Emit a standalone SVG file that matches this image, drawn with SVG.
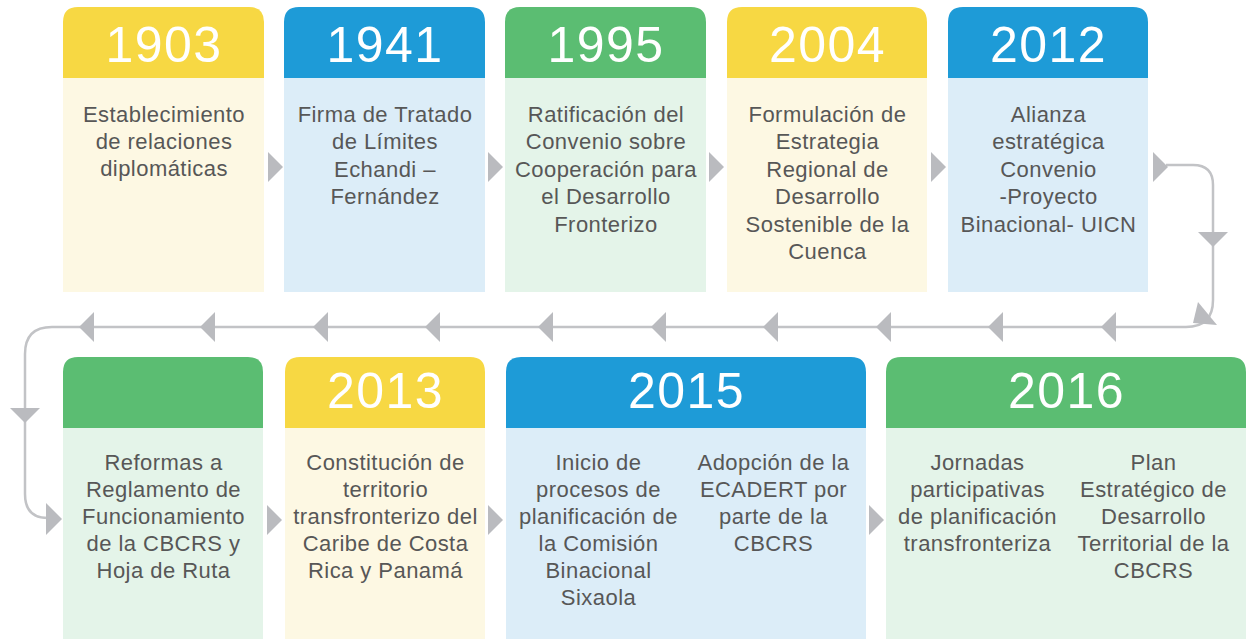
<svg xmlns="http://www.w3.org/2000/svg" width="1248" height="639" viewBox="0 0 1248 639">
<style>
.yr{font-family:"Liberation Sans",Arial,sans-serif;font-size:50px;fill:#ffffff;text-anchor:middle;letter-spacing:1.5px}
.tx{font-family:"Liberation Sans",Arial,sans-serif;font-size:22px;fill:#575757;text-anchor:middle;letter-spacing:0.45px}
.hy{fill:#f7d843}.by{fill:#fdf8e3}
.hb{fill:#1e9bd7}.bb{fill:#dcedf8}
.hg{fill:#5bbd72}.bg{fill:#e4f4e9}
.ln{fill:none;stroke:#c2c3c6;stroke-width:2.5}
.ar{fill:#babbbf}
</style>
<rect width="1248" height="639" fill="#ffffff"/>
<g id="connectors">
<path class="ln" d="M 1166 165 H 1193 Q 1213 165 1213 185 V 300 Q 1213 327 1186 327 H 52 Q 25 327 25 354 V 494 Q 25 518 48 518"/>
<polygon class="ar" points="1198,232 1228,232 1213,247"/>
<polygon class="ar" points="1198,302 1217,325 1193,323"/>
<polygon class="ar" points="10,408 40,408 25,423"/>
<g id="left-arrows">
<polygon class="ar" points="79,327 94,312 94,342"/>
<polygon class="ar" points="200,327 215,312 215,342"/>
<polygon class="ar" points="313,327 328,312 328,342"/>
<polygon class="ar" points="425,327 440,312 440,342"/>
<polygon class="ar" points="538,327 553,312 553,342"/>
<polygon class="ar" points="651,327 666,312 666,342"/>
<polygon class="ar" points="763,327 778,312 778,342"/>
<polygon class="ar" points="876,327 891,312 891,342"/>
<polygon class="ar" points="988,327 1003,312 1003,342"/>
<polygon class="ar" points="1101,327 1116,312 1116,342"/>
</g>
<polygon class="ar" points="268,152 268,182 283,167"/>
<polygon class="ar" points="488,152 488,182 503,167"/>
<polygon class="ar" points="709,152 709,182 724,167"/>
<polygon class="ar" points="931,152 931,182 946,167"/>
<polygon class="ar" points="1153,152 1153,182 1168,167"/>
<polygon class="ar" points="46,503 46,535 62,519"/>
<polygon class="ar" points="267,505 267,535 282,520"/>
<polygon class="ar" points="488,505 488,535 503,520"/>
<polygon class="ar" points="869,505 869,535 884,520"/>
</g>
<g id="n1903">
<path class="hy" d="M63 78 V22 Q63 7 78 7 H249 Q264 7 264 22 V78 Z"/>
<rect class="by" x="63" y="78" width="201" height="214"/>
<text class="yr" x="164" y="62">1903</text>
<text class="tx" x="164" y="122">Establecimiento</text>
<text class="tx" x="164" y="149">de relaciones</text>
<text class="tx" x="164" y="176">diplomáticas</text>
</g>
<g id="n1941">
<path class="hb" d="M284 78 V22 Q284 7 299 7 H470 Q485 7 485 22 V78 Z"/>
<rect class="bb" x="284" y="78" width="201" height="214"/>
<text class="yr" x="385" y="62">1941</text>
<text class="tx" x="385" y="122">Firma de Tratado</text>
<text class="tx" x="385" y="149.4">de Límites</text>
<text class="tx" x="385" y="176.8">Echandi –</text>
<text class="tx" x="385" y="204.2">Fernández</text>
</g>
<g id="n1995">
<path class="hg" d="M505 78 V22 Q505 7 520 7 H691 Q706 7 706 22 V78 Z"/>
<rect class="bg" x="505" y="78" width="201" height="214"/>
<text class="yr" x="606" y="62">1995</text>
<text class="tx" x="606" y="122">Ratificación del</text>
<text class="tx" x="606" y="149.4">Convenio sobre</text>
<text class="tx" x="606" y="176.8">Cooperación para</text>
<text class="tx" x="606" y="204.2">el Desarrollo</text>
<text class="tx" x="606" y="231.6">Fronterizo</text>
</g>
<g id="n2004">
<path class="hy" d="M727 78 V22 Q727 7 742 7 H912 Q927 7 927 22 V78 Z"/>
<rect class="by" x="727" y="78" width="200" height="214"/>
<text class="yr" x="827.5" y="62">2004</text>
<text class="tx" x="827.5" y="122">Formulación de</text>
<text class="tx" x="827.5" y="149.4">Estrategia</text>
<text class="tx" x="827.5" y="176.8">Regional de</text>
<text class="tx" x="827.5" y="204.2">Desarrollo</text>
<text class="tx" x="827.5" y="231.6">Sostenible de la</text>
<text class="tx" x="827.5" y="259">Cuenca</text>
</g>
<g id="n2012">
<path class="hb" d="M948 78 V22 Q948 7 963 7 H1133 Q1148 7 1148 22 V78 Z"/>
<rect class="bb" x="948" y="78" width="200" height="214"/>
<text class="yr" x="1048.5" y="62">2012</text>
<text class="tx" x="1048.5" y="122">Alianza</text>
<text class="tx" x="1048.5" y="149.4">estratégica</text>
<text class="tx" x="1048.5" y="176.8">Convenio</text>
<text class="tx" x="1048.5" y="204.2">-Proyecto</text>
<text class="tx" x="1048.5" y="231.6">Binacional- UICN</text>
</g>
<g id="nReformas">
<path class="hg" d="M63 428 V372 Q63 357 78 357 H248 Q263 357 263 372 V428 Z"/>
<rect class="bg" x="63" y="428" width="200" height="211"/>
<text class="tx" x="163.5" y="470">Reformas a</text>
<text class="tx" x="163.5" y="497">Reglamento de</text>
<text class="tx" x="163.5" y="524">Funcionamiento</text>
<text class="tx" x="163.5" y="551">de la CBCRS y</text>
<text class="tx" x="163.5" y="578">Hoja de Ruta</text>
</g>
<g id="n2013">
<path class="hy" d="M285 428 V372 Q285 357 300 357 H470 Q485 357 485 372 V428 Z"/>
<rect class="by" x="285" y="428" width="200" height="211"/>
<text class="yr" x="385.5" y="408">2013</text>
<text class="tx" x="385.5" y="470">Constitución de</text>
<text class="tx" x="385.5" y="497">territorio</text>
<text class="tx" x="385.5" y="524">transfronterizo del</text>
<text class="tx" x="385.5" y="551">Caribe de Costa</text>
<text class="tx" x="385.5" y="578">Rica y Panamá</text>
</g>
<g id="n2015">
<path class="hb" d="M506 428 V372 Q506 357 521 357 H851 Q866 357 866 372 V428 Z"/>
<rect class="bb" x="506" y="428" width="360" height="211"/>
<text class="yr" x="686.5" y="408">2015</text>
<text class="tx" x="598.5" y="470">Inicio de</text>
<text class="tx" x="598.5" y="497">procesos de</text>
<text class="tx" x="598.5" y="524">planificación de</text>
<text class="tx" x="598.5" y="551">la Comisión</text>
<text class="tx" x="598.5" y="578">Binacional</text>
<text class="tx" x="598.5" y="605">Sixaola</text>
<text class="tx" x="773.5" y="470">Adopción de la</text>
<text class="tx" x="773.5" y="497">ECADERT por</text>
<text class="tx" x="773.5" y="524">parte de la</text>
<text class="tx" x="773.5" y="551">CBCRS</text>
</g>
<g id="n2016">
<path class="hg" d="M886 428 V372 Q886 357 901 357 H1231 Q1246 357 1246 372 V428 Z"/>
<rect class="bg" x="886" y="428" width="360" height="211"/>
<text class="yr" x="1066.5" y="408">2016</text>
<text class="tx" x="977.5" y="470">Jornadas</text>
<text class="tx" x="977.5" y="497">participativas</text>
<text class="tx" x="977.5" y="524">de planificación</text>
<text class="tx" x="977.5" y="551">transfronteriza</text>
<text class="tx" x="1153.5" y="470">Plan</text>
<text class="tx" x="1153.5" y="497">Estratégico de</text>
<text class="tx" x="1153.5" y="524">Desarrollo</text>
<text class="tx" x="1153.5" y="551">Territorial de la</text>
<text class="tx" x="1153.5" y="578">CBCRS</text>
</g>
</svg>
